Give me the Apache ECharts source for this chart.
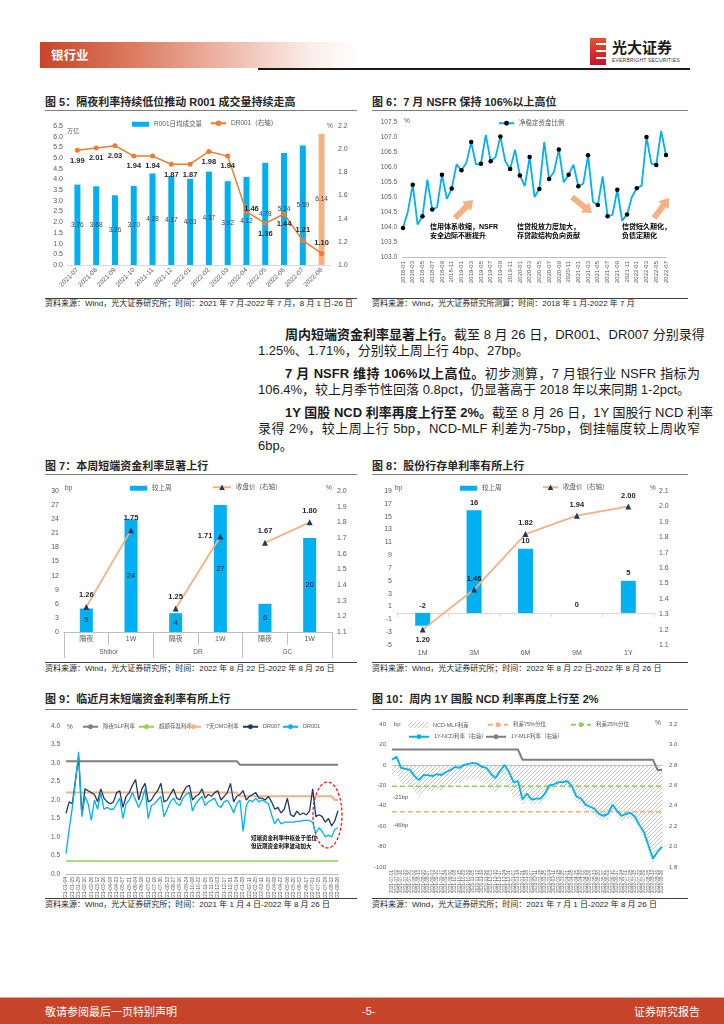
<!DOCTYPE html>
<html><head><meta charset="utf-8">
<script src="https://cdn.jsdelivr.net/npm/echarts/dist/echarts.min.js"></script>
<style>
html,body{margin:0;padding:0;background:#fff}
body{width:724px;height:1024px;position:relative;overflow:hidden;font-family:"Liberation Sans","Noto Sans CJK SC",sans-serif;color:#1a1a1a}
.a{position:absolute;white-space:nowrap}
.ttl{font-size:11px;font-weight:700;line-height:14px;color:#262626;font-family:"Liberation Sans","Noto Sans CJK SC",sans-serif}
.src{font-size:8px;line-height:10px;color:#262626}
.rl{position:absolute;height:1px;background:#7f7f7f}
.rs{position:absolute;height:1px;background:#404040}
.ch{position:absolute}
.ln{position:absolute;left:258px;width:442px;font-size:13px;line-height:17px;white-space:nowrap;text-align:justify;text-align-last:justify;color:#1a1a1a}
.ln.last{text-align-last:left}
.ln b{font-weight:700}
</style>
</head><body>

<!-- header -->
<div class="a" style="left:40px;top:42px;width:320px;height:26px;background:linear-gradient(to right,#c8442a 0%,#dc7d62 30%,#eebcad 60%,#fbeee9 85%,#ffffff 100%)"></div>
<div class="a" style="left:51px;top:47px;font-size:12.5px;font-weight:700;color:#fff;font-family:'Noto Sans CJK SC',sans-serif;line-height:16px">银行业</div>
<div class="a" style="left:258px;top:68px;width:432px;height:1.5px;background:#1a1a1a"></div>
<div class="a" style="left:590px;top:38px;width:16px;height:27px;background:linear-gradient(#e8502e,#c8102e)"></div>
<div class="a" style="left:596px;top:43px;width:10px;height:2px;background:#fff"></div>
<div class="a" style="left:596px;top:50px;width:10px;height:2px;background:#fff"></div>
<div class="a" style="left:596px;top:57px;width:10px;height:2px;background:#fff"></div>
<div class="a" style="left:612px;top:38px;font-size:15px;font-weight:700;color:#1a1a1a;line-height:18px;font-family:'Noto Sans CJK SC',sans-serif">光大证券</div>
<div class="a" style="left:612px;top:57px;font-size:5px;color:#333;line-height:6px;letter-spacing:0.2px">EVERBRIGHT SECURITIES</div>

<!-- figure 5 / 6 -->
<div class="a ttl" style="left:45px;top:95px">图 5：隔夜利率持续低位推动 R001 成交量持续走高</div>
<div class="rl" style="left:45px;top:110px;width:312px"></div>
<div id="c5" class="ch" style="left:45px;top:111px;width:312px;height:186px"></div>
<div class="rs" style="left:45px;top:298px;width:312px"></div>
<div class="a src" style="left:45px;top:299px">资料来源：Wind，光大证券研究所；时间：2021 年 7 月-2022 年 7 月，8 月 1 日-26 日</div>

<div class="a ttl" style="left:372px;top:95px">图 6：7 月 NSFR 保持 106%以上高位</div>
<div class="rl" style="left:372px;top:110px;width:316px"></div>
<div id="c6" class="ch" style="left:372px;top:111px;width:318px;height:186px"></div>
<div class="rs" style="left:372px;top:298px;width:316px"></div>
<div class="a src" style="left:372px;top:299px">资料来源：Wind，光大证券研究所测算；时间：2018 年 1 月-2022 年 7 月</div>

<!-- body text -->
<div class="ln" style="top:325.5px;text-indent:27px"><b>周内短端资金利率显著上行。</b>截至 8 月 26 日，DR001、DR007 分别录得</div>
<div class="ln last" style="top:342px">1.25%、1.71%，分别较上周上行 4bp、27bp。</div>
<div class="ln" style="top:364.5px;text-indent:27px"><b>7 月 NSFR 维持 106%以上高位。</b>初步测算，7 月银行业 NSFR 指标为</div>
<div class="ln last" style="top:381px">106.4%，较上月季节性回落 0.8pct，仍显著高于 2018 年以来同期 1-2pct。</div>
<div class="ln" style="top:403.5px;text-indent:27px"><b>1Y 国股 NCD 利率再度上行至 2%。</b>截至 8 月 26 日，1Y 国股行 NCD 利率</div>
<div class="ln" style="top:420px">录得 2%，较上周上行 5bp，NCD-MLF 利差为-75bp，倒挂幅度较上周收窄</div>
<div class="ln last" style="top:436.5px">6bp。</div>

<!-- figure 7 / 8 -->
<div class="a ttl" style="left:45px;top:459px">图 7：本周短端资金利率显著上行</div>
<div class="rl" style="left:45px;top:474px;width:312px"></div>
<div id="c7" class="ch" style="left:45px;top:475px;width:312px;height:186px"></div>
<div class="rs" style="left:45px;top:662px;width:312px"></div>
<div class="a src" style="left:45px;top:664px">资料来源：Wind，光大证券研究所；时间：2022 年 8 月 22 日-2022 年 8 月 26 日</div>

<div class="a ttl" style="left:372px;top:459px">图 8：股份行存单利率有所上行</div>
<div class="rl" style="left:372px;top:474px;width:316px"></div>
<div id="c8" class="ch" style="left:372px;top:475px;width:318px;height:186px"></div>
<div class="rs" style="left:372px;top:662px;width:316px"></div>
<div class="a src" style="left:372px;top:664px">资料来源：Wind，光大证券研究所；时间：2022 年 8 月 22 日-2022 年 8 月 26 日</div>

<!-- figure 9 / 10 -->
<div class="a ttl" style="left:45px;top:692px">图 9：临近月末短端资金利率有所上行</div>
<div class="rl" style="left:45px;top:709px;width:312px"></div>
<div id="c9" class="ch" style="left:45px;top:710px;width:312px;height:188px"></div>
<div class="rs" style="left:45px;top:898px;width:312px"></div>
<div class="a src" style="left:45px;top:900px">资料来源：Wind，光大证券研究所；时间：2021 年 1 月 4 日-2022 年 8 月 26 日</div>

<div class="a ttl" style="left:372px;top:692px">图 10：周内 1Y 国股 NCD 利率再度上行至 2%</div>
<div class="rl" style="left:372px;top:709px;width:316px"></div>
<div id="c10" class="ch" style="left:372px;top:710px;width:318px;height:188px"></div>
<div class="rs" style="left:372px;top:898px;width:316px"></div>
<div class="a src" style="left:372px;top:900px">资料来源：Wind，光大证券研究所；时间：2021 年 7 月 1 日-2022 年 8 月 26 日</div>

<!-- footer -->
<div class="a" style="left:0;top:997px;width:724px;height:1px;background:#e8a898"></div>
<div class="a" style="left:0;top:998px;width:724px;height:26px;background:#c5442a"></div>
<div class="a" style="left:45px;top:1004px;font-size:11px;color:#fff;line-height:14px;font-family:'Noto Sans CJK SC',sans-serif">敬请参阅最后一页特别声明</div>
<div class="a" style="left:362px;top:1004px;font-size:11px;color:#fff;line-height:14px">-5-</div>
<div class="a" style="right:24px;top:1004px;font-size:11px;color:#fff;line-height:14px;font-family:'Noto Sans CJK SC',sans-serif">证券研究报告</div>

<script>
// ---------------- data ----------------
// Figure 5
const months5 = ['2021-07','2021-08','2021-09','2021-10','2021-11','2021-12','2022-01','2022-02','2022-03','2022-04','2022-05','2022-06','2022-07','2022-08'];
const r001Volume = [3.76,3.68,3.26,3.70,4.28,4.17,4.03,4.37,3.92,4.12,4.78,5.24,5.59,6.14];
const dr001Monthly = [1.99,2.01,2.03,1.94,1.94,1.87,1.87,1.98,1.94,1.46,1.36,1.44,1.21,1.10];

// Figure 6
const months6 = ['2018-01','2018-02','2018-03','2018-04','2018-05','2018-06','2018-07','2018-08','2018-09','2018-10','2018-11','2018-12',
 '2019-01','2019-02','2019-03','2019-04','2019-05','2019-06','2019-07','2019-08','2019-09','2019-10','2019-11','2019-12',
 '2020-01','2020-02','2020-03','2020-04','2020-05','2020-06','2020-07','2020-08','2020-09','2020-10','2020-11','2020-12',
 '2021-01','2021-02','2021-03','2021-04','2021-05','2021-06','2021-07','2021-08','2021-09','2021-10','2021-11','2021-12',
 '2022-01','2022-02','2022-03','2022-04','2022-05','2022-06','2022-07'];
const nsfr = [103.97,104.52,105.41,104.08,104.36,105.58,104.58,104.66,105.74,104.94,105.28,106.09,
 105.89,106.13,106.83,106.08,106.11,107.07,106.19,106.33,107.02,106.19,105.93,106.58,
 105.72,105.36,106.33,105.00,105.27,106.83,105.60,105.84,106.58,105.49,105.74,106.08,
 105.36,105.44,106.39,104.84,104.73,105.69,104.36,104.40,105.24,104.21,104.42,105.00,
 105.29,105.38,107.00,106.11,106.07,107.20,106.40];

// Figure 7
const terms7 = ['隔夜','1W','隔夜','1W','隔夜','1W'];
const groups7 = ['Shibor','DR','GC'];
const weekChg7 = [5,24,4,27,6,20];
const close7 = [1.26,1.75,1.25,1.71,1.67,1.80];

// Figure 8
const tenors8 = ['1M','3M','6M','9M','1Y'];
const weekChg8 = [-2,16,10,0,5];
const close8 = [1.20,1.46,1.82,1.94,2.00];

// Figure 9 (weekly samples)
const dates9 = ['2021-01-04','2021-01-08','2021-01-15','2021-01-22','2021-01-29','2021-02-05','2021-02-10','2021-02-19','2021-02-26','2021-03-05','2021-03-12','2021-03-19','2021-03-26','2021-04-02','2021-04-09','2021-04-16','2021-04-23','2021-04-30','2021-05-07','2021-05-14','2021-05-21','2021-05-28','2021-06-04','2021-06-11','2021-06-18','2021-06-25','2021-07-02','2021-07-09','2021-07-16','2021-07-23','2021-07-30','2021-08-06','2021-08-13','2021-08-20','2021-08-27','2021-09-03','2021-09-10','2021-09-17','2021-09-24','2021-09-30','2021-10-08','2021-10-15','2021-10-22','2021-10-29','2021-11-05','2021-11-12','2021-11-19','2021-11-26','2021-12-03','2021-12-10','2021-12-17','2021-12-24','2021-12-31','2022-01-07','2022-01-14','2022-01-21','2022-01-28','2022-02-07','2022-02-11','2022-02-18','2022-02-25','2022-03-04','2022-03-11','2022-03-18','2022-03-25','2022-04-01','2022-04-08','2022-04-15','2022-04-22','2022-04-29','2022-05-06','2022-05-13','2022-05-20','2022-05-27','2022-06-02','2022-06-10','2022-06-17','2022-06-24','2022-07-01','2022-07-08','2022-07-15','2022-07-22','2022-07-29','2022-08-05','2022-08-12','2022-08-19','2022-08-26'];
const dr001Weekly = [0.55,1.20,1.80,2.50,3.30,1.55,2.10,1.90,1.45,2.00,
 1.75,2.20,1.75,1.80,1.75,1.75,1.90,2.05,1.50,1.90,
 2.00,2.20,2.00,1.80,2.00,2.30,1.50,1.85,1.90,2.00,
 2.10,1.55,1.75,1.95,2.05,1.90,1.85,2.05,2.15,2.20,
 1.70,1.90,2.00,2.10,1.85,1.95,2.00,2.05,1.85,1.80,
 1.95,2.00,1.85,1.65,1.90,2.00,1.15,1.85,2.00,1.95,
 2.05,1.95,2.00,1.95,1.90,1.60,1.35,1.50,1.35,1.40,
 1.40,1.40,1.40,1.42,1.42,1.45,1.45,1.45,1.40,1.10,
 1.25,1.15,1.00,1.05,1.00,1.21,1.25];
const dr007Weekly = [1.64,1.95,1.90,2.55,3.15,1.60,2.30,2.25,2.20,2.15,
 1.95,2.30,2.05,1.95,1.90,1.95,2.20,2.25,1.80,2.10,
 2.20,2.40,2.55,2.00,2.30,2.45,1.95,2.00,2.15,2.25,
 2.45,1.95,2.00,2.15,2.30,2.05,2.00,2.20,2.35,2.40,
 2.00,2.10,2.15,2.30,2.05,2.15,2.10,2.20,2.25,2.00,
 2.10,2.20,2.45,1.95,2.10,2.15,2.25,2.00,2.10,2.15,
 2.20,2.05,2.05,2.00,2.10,1.95,1.75,1.80,1.65,1.75,
 2.05,1.60,1.55,1.70,1.60,1.65,1.60,1.70,2.30,1.55,
 1.60,1.55,1.40,1.50,1.30,1.44,1.71];
const slfON = [['2021-01-04',3.05],['2022-01-14',3.05],['2022-01-21',2.95],['2022-08-26',2.95]];
const excessReserve = [['2021-01-04',0.35],['2022-08-26',0.35]];
const omo7d = [['2021-01-04',2.20],['2022-01-14',2.20],['2022-01-21',2.10],['2022-08-12',2.10],['2022-08-19',2.00],['2022-08-26',2.00]];

// Figure 10 (weekly samples)
const dates10 = ['2021-07-01','2021-07-09','2021-07-16','2021-07-23','2021-07-30','2021-08-06','2021-08-13','2021-08-20','2021-08-27','2021-09-03','2021-09-10','2021-09-17','2021-09-24','2021-09-30','2021-10-08','2021-10-15','2021-10-22','2021-10-29','2021-11-05','2021-11-12','2021-11-19','2021-11-26','2021-12-03','2021-12-10','2021-12-17','2021-12-24','2021-12-31','2022-01-07','2022-01-14','2022-01-21','2022-01-28','2022-02-07','2022-02-11','2022-02-18','2022-02-25','2022-03-04','2022-03-11','2022-03-18','2022-03-25','2022-04-01','2022-04-08','2022-04-15','2022-04-22','2022-04-29','2022-05-06','2022-05-13','2022-05-20','2022-05-27','2022-06-02','2022-06-10','2022-06-17','2022-06-24','2022-07-01','2022-07-08','2022-07-15','2022-07-22','2022-07-29','2022-08-05','2022-08-12','2022-08-19','2022-08-26'];
const ncd1y = [2.85,2.88,2.77,2.76,2.75,2.69,2.65,2.70,2.70,2.69,
 2.71,2.70,2.73,2.75,2.78,2.77,2.80,2.81,2.82,2.81,
 2.78,2.77,2.71,2.67,2.74,2.80,2.73,2.63,2.64,2.46,
 2.52,2.46,2.47,2.47,2.52,2.60,2.61,2.63,2.63,2.64,
 2.59,2.49,2.47,2.41,2.39,2.37,2.32,2.30,2.32,2.41,
 2.35,2.30,2.32,2.33,2.29,2.21,2.14,2.01,1.88,1.95,
 2.00];
const mlf1y = [['2021-07-01',2.95],['2022-01-14',2.95],['2022-01-21',2.85],['2022-08-12',2.85],['2022-08-19',2.75],['2022-08-26',2.75]];
const spreadQ75 = -46, spreadQ25 = -21;

// ---------------- helpers ----------------
const FONT = '"Liberation Sans","Noto Sans CJK SC",sans-serif';
const GRAY = '#595959';
function mk(id){ return echarts.init(document.getElementById(id), null, {renderer:'canvas'}); }
function leg(name, left, top, opt){
  return Object.assign({data:[name], left:left, top:top, padding:0, itemGap:0, itemWidth:17, itemHeight:5,
    selectedMode:false, textStyle:{fontSize:6.5, color:GRAY, fontFamily:FONT}}, opt||{});
}
function txt(t, left, top, size, extra){
  return Object.assign({type:'text', left:left, top:top, silent:true,
    style:Object.assign({text:t, fill:GRAY, fontSize:size||6.5, fontFamily:FONT}, extra||{})});
}
function valAxis(min,max,interval,dec,extra){
  return Object.assign({type:'value', min:min, max:max, interval:interval, splitLine:{show:false},
    axisLine:{show:false}, axisTick:{show:false},
    axisLabel:{fontSize:7, color:GRAY, margin:5, fontFamily:FONT, formatter:v=>Number(v).toFixed(dec)}}, extra||{});
}
function mlfAt(date, steps){ // step value in force on a date
  let v = steps[0][1];
  for (let i=0;i<steps.length;i++){ if (steps[i][0] <= date) v = steps[i][1]; }
  return v;
}
function arrow(x1,y1,x2,y2){
  const dx=x2-x1, dy=y2-y1, L=Math.hypot(dx,dy), ux=dx/L, uy=dy/L, nx=-uy, ny=ux;
  const w=3, hw=6.5, hl=9; const sx=x2-ux*hl, sy=y2-uy*hl;
  return {type:'polygon', silent:true, shape:{points:[
    [x1+nx*w,y1+ny*w],[sx+nx*w,sy+ny*w],[sx+nx*hw,sy+ny*hw],[x2,y2],[sx-nx*hw,sy-ny*hw],[sx-nx*w,sy-ny*w],[x1-nx*w,y1-ny*w]]},
    style:{fill:'#F4B183'}};
}

// ---------------- Figure 5 ----------------
const pos5 = ['bottom','bottom','bottom','bottom','bottom','bottom','bottom','bottom','bottom','inside','bottom','bottom','top','top'];
mk('c5').setOption({
  animation:false, textStyle:{fontFamily:FONT},
  grid:{left:23, right:26, top:15, bottom:32, outerBoundsMode:'none'},
  legend:[leg('R001日均成交量',87,10,{icon:'rect'}), leg('DR001（右轴）',165,9,{itemWidth:15,itemHeight:7})],
  xAxis:{type:'category', data:months5, axisLine:{lineStyle:{color:'#d9d9d9'}}, axisTick:{show:false},
    axisLabel:{rotate:45, interval:0, fontSize:6.5, color:GRAY, margin:4}},
  yAxis:[valAxis(0,6.5,0.5,1), valAxis(1.0,2.2,0.2,1,{axisLabel:{fontSize:7,color:GRAY,margin:7,formatter:v=>Number(v).toFixed(1)}})],
  series:[
    {name:'R001日均成交量', type:'bar', barWidth:6, itemStyle:{color:'#00B0F0'},
     data:r001Volume.map((v,i)=> i===r001Volume.length-1 ? {value:v, itemStyle:{color:'#F4B183'}} : v),
     label:{show:true, position:'inside', fontSize:6.5, color:'#404040', formatter:p=>Number(p.value).toFixed(2)}},
    {name:'DR001（右轴）', type:'line', yAxisIndex:1, symbol:'circle', symbolSize:5,
     itemStyle:{color:'#ED7D31'}, lineStyle:{color:'#ED7D31', width:1.5},
     data:dr001Monthly.map((v,i)=>({value:v, label:{position:pos5[i], offset: pos5[i]==='inside'?[5,-3]:[0,0]}})),
     label:{show:true, fontSize:7.5, fontWeight:'bold', color:'#262626', distance:4, formatter:p=>Number(p.value).toFixed(2)}}
  ],
  graphic:[txt('万亿',22,17,6), txt('%',282,12,6.5)]
});

// ---------------- Figure 6 ----------------
mk('c6').setOption({
  animation:false, textStyle:{fontFamily:FONT},
  grid:{left:31, right:24, top:11, bottom:40, outerBoundsMode:'none'},
  legend:[leg('净稳定资金比例',126,9,{itemWidth:15,itemHeight:6})],
  xAxis:{type:'category', boundaryGap:false, data:months6, axisLine:{lineStyle:{color:'#bfbfbf'}}, axisTick:{show:false},
    axisLabel:{rotate:90, interval:1, fontSize:6, color:GRAY, margin:4}},
  yAxis:valAxis(103,107.5,0.5,1,{axisLabel:{fontSize:6.5,color:GRAY,margin:6,formatter:v=>Number(v).toFixed(1)}}),
  series:[{name:'净稳定资金比例', type:'line', data:nsfr, symbol:'circle', symbolSize:4.5,
    itemStyle:{color:'#000'}, lineStyle:{color:'#00B0F0', width:1.8}}],
  graphic:[
    txt('%',32,7,6.5),
    arrow(83,107,101,89), arrow(200,86,220,102), arrow(282,107,297,87),
    txt('信用体系收缩，NSFR\n安全边际不断提升',58,112,7,{fill:'#000',fontWeight:'bold',lineHeight:9}),
    txt('信贷投放力度加大，\n存贷款结构负向贡献',145,112,7,{fill:'#000',fontWeight:'bold',lineHeight:9}),
    txt('信贷短久期化，\n负债定期化',250,112,7,{fill:'#000',fontWeight:'bold',lineHeight:9})
  ]
});

// ---------------- Figure 7 ----------------
const pos7 = ['top','top','top','left','top','top'];
function groupSeries(g){
  return {name:'收盘价（右轴）', type:'line', yAxisIndex:1, symbol:'triangle', symbolSize:6,
    itemStyle:{color:'#203864'}, lineStyle:{color:'#F4B183', width:1.8},
    data:close7.map((v,i)=> Math.floor(i/2)===g ? {value:v, label:{position:pos7[i]}} : '-'),
    label:{show:true, fontSize:7.5, fontWeight:'bold', color:'#262626', distance:5, formatter:p=>Number(p.value).toFixed(2)}};
}
mk('c7').setOption({
  animation:false, textStyle:{fontFamily:FONT},
  grid:{left:19, right:25, top:16, bottom:29, outerBoundsMode:'none'},
  legend:[leg('较上周',85,10,{icon:'rect'}), leg('收盘价（右轴）',167,9,{itemWidth:18,itemHeight:7})],
  xAxis:[
    {type:'category', data:terms7, axisLine:{lineStyle:{color:'#bfbfbf'}},
     axisTick:{show:true, length:13, lineStyle:{color:'#bfbfbf'}}, axisLabel:{fontSize:7, color:GRAY, margin:4}},
    {type:'category', data:groups7, position:'bottom', offset:13, axisLine:{show:false},
     axisTick:{show:true, length:13, lineStyle:{color:'#bfbfbf'}}, axisLabel:{fontSize:6.5, color:GRAY, margin:4}}
  ],
  yAxis:[valAxis(0,30,3,0), valAxis(1.1,2.0,0.1,1)],
  series:[
    {name:'较上周', type:'bar', barWidth:13, itemStyle:{color:'#00B0F0'}, data:weekChg7,
     label:{show:true, position:'inside', fontSize:7.5, color:'#262626'}},
    groupSeries(0), groupSeries(1), groupSeries(2)
  ],
  graphic:[txt('bp',20,10,6.5), txt('%',281,10,6.5)]
});

// ---------------- Figure 8 ----------------
const pos8 = ['bottom','top','top','top','top'];
mk('c8').setOption({
  animation:false, textStyle:{fontFamily:FONT},
  grid:{left:25, right:36, top:16, bottom:16, outerBoundsMode:'none'},
  legend:[leg('较上周',88,10,{icon:'rect'}), leg('收盘价（右轴）',170,9,{itemWidth:15,itemHeight:7})],
  xAxis:{type:'category', data:tenors8, axisLine:{lineStyle:{color:'#d9d9d9'}},
    axisTick:{show:true, length:4, lineStyle:{color:'#d9d9d9'}}, axisLabel:{fontSize:7, color:GRAY, margin:5}},
  yAxis:[valAxis(-5,19,2,0), valAxis(1.1,2.1,0.1,1)],
  series:[
    {name:'较上周', type:'bar', barWidth:15, itemStyle:{color:'#00B0F0'},
     data:weekChg8.map(v=> v<0 ? {value:v, label:{position:'insideBottom', offset:[0,-12]}} : v),
     label:{show:true, position:'top', fontSize:7.5, fontWeight:'bold', color:'#262626', distance:4}},
    {name:'收盘价（右轴）', type:'line', yAxisIndex:1, symbol:'triangle', symbolSize:6,
     itemStyle:{color:'#203864'}, lineStyle:{color:'#F4B183', width:1.8},
     data:close8.map((v,i)=>({value:v, label:{position:pos8[i]}})),
     label:{show:true, fontSize:7.5, fontWeight:'bold', color:'#262626', distance:4, formatter:p=>Number(p.value).toFixed(2)}}
  ],
  graphic:[txt('bp',23,10,6.5), txt('%',278,10,6.5)]
});

// ---------------- Figure 9 ----------------
const lg9 = {itemWidth:15, itemHeight:6, textStyle:{fontSize:5.5, color:GRAY, fontFamily:FONT}};
mk('c9').setOption({
  animation:false, textStyle:{fontFamily:FONT},
  grid:{left:21, right:19, top:16, bottom:24, outerBoundsMode:'none'},
  legend:[leg('隔夜SLF利率',37,14,lg9), leg('超额存准利率',93,14,lg9), leg('7天OMO利率',140,14,lg9), leg('DR007',197,14,lg9), leg('DR001',237,14,lg9)],
  xAxis:{type:'category', boundaryGap:false, data:dates9, axisLine:{lineStyle:{color:'#bfbfbf'}}, axisTick:{show:false},
    axisLabel:{rotate:90, interval:1, fontSize:5, color:GRAY, margin:3}},
  yAxis:valAxis(0,4,0.5,1,{axisLabel:{fontSize:6.5,color:GRAY,margin:6,formatter:v=>Number(v).toFixed(1)}}),
  series:[
    {name:'隔夜SLF利率', type:'line', data:slfON, symbol:'none', lineStyle:{color:'#7f7f7f', width:2}, itemStyle:{color:'#7f7f7f'}},
    {name:'超额存准利率', type:'line', data:excessReserve, symbol:'none', lineStyle:{color:'#92D050', width:1.5}, itemStyle:{color:'#92D050'}},
    {name:'7天OMO利率', type:'line', data:omo7d, symbol:'none', lineStyle:{color:'#F4B183', width:2}, itemStyle:{color:'#F4B183'}},
    {name:'DR007', type:'line', data:dr007Weekly, symbol:'none', lineStyle:{color:'#203864', width:1.3}, itemStyle:{color:'#203864'}},
    {name:'DR001', type:'line', data:dr001Weekly, symbol:'none', lineStyle:{color:'#00B0F0', width:1.3}, itemStyle:{color:'#00B0F0'}}
  ],
  graphic:[
    txt('%',22,14,6.5),
    {type:'ellipse', silent:true, shape:{cx:282.5, cy:105, rx:14.5, ry:33}, style:{fill:'transparent', stroke:'#FF0000', lineWidth:1.2, lineDash:[3,2]}},
    txt('短端资金利率中枢处于低位\n但近期资金利率波动加大',206,124,5.5,{fill:'#000',fontWeight:'bold',lineHeight:8.5})
  ]
});

// ---------------- Figure 10 ----------------
function hatchCanvas(){
  const c=document.createElement('canvas'); c.width=4; c.height=4; const g=c.getContext('2d');
  g.fillStyle='#c4c4c4'; g.fillRect(0,3,1,1); g.fillRect(1,2,1,1); g.fillRect(2,1,1,1); g.fillRect(3,0,1,1);
  return c;
}
const hatch = {image:hatchCanvas(), repeat:'repeat'};
const spread10 = ncd1y.map((v,i)=> Math.round((v - mlfAt(dates10[i], mlf1y))*100));
const lg10 = {itemWidth:20, itemHeight:6, textStyle:{fontSize:5.5, color:GRAY, fontFamily:FONT}};
const last10 = dates10[dates10.length-1];
mk('c10').setOption({
  animation:false, textStyle:{fontFamily:FONT},
  grid:{left:20, right:28, top:14, bottom:31, outerBoundsMode:'none'},
  legend:[
    leg('NCD-MLF利差',36,12,Object.assign({icon:'rect', itemStyle:{color:hatch}},lg10)),
    leg('利差75%分位',115,12,lg10), leg('利差25%分位',198,12,lg10),
    leg('1Y-NCD利率（右轴）',36,24,lg10), leg('1Y-MLF利率（右轴）',113,24,lg10)
  ],
  xAxis:{type:'category', boundaryGap:false, data:dates10, axisLine:{lineStyle:{color:'#bfbfbf'}}, axisTick:{show:false},
    axisLabel:{rotate:90, interval:0, fontSize:4.5, color:GRAY, margin:3}},
  yAxis:[valAxis(-100,40,20,0,{axisLabel:{fontSize:6,color:GRAY,margin:6}}),
         valAxis(1.8,3.2,0.2,1,{axisLabel:{fontSize:6,color:GRAY,margin:7,formatter:v=>Number(v).toFixed(1)}})],
  series:[
    {name:'NCD-MLF利差', type:'line', data:spread10, symbol:'none', lineStyle:{width:0}, itemStyle:{color:'#b0b0b0'},
     areaStyle:{color:hatch, opacity:1}, z:1},
    {name:'利差75%分位', type:'line', symbol:'none', data:[[dates10[0],spreadQ75],[last10,spreadQ75]],
     lineStyle:{color:'#F4B183', width:1.5, type:[5,3]}, itemStyle:{color:'#F4B183'}},
    {name:'利差25%分位', type:'line', symbol:'none', data:[[dates10[0],spreadQ25],[last10,spreadQ25]],
     lineStyle:{color:'#92D050', width:1.5, type:[5,3]}, itemStyle:{color:'#92D050'}},
    {name:'1Y-NCD利率（右轴）', type:'line', yAxisIndex:1, data:ncd1y, symbol:'none',
     lineStyle:{color:'#00B0F0', width:1.8}, itemStyle:{color:'#00B0F0'}, z:4},
    {name:'1Y-MLF利率（右轴）', type:'line', yAxisIndex:1, data:mlf1y, symbol:'none',
     lineStyle:{color:'#7f7f7f', width:2}, itemStyle:{color:'#7f7f7f'}, z:3}
  ],
  graphic:[txt('bp',22,11,6), txt('%',283,10,6.5),
    txt(spreadQ25+'bp',21,84,6), txt(spreadQ75+'bp',21,112,6)]
});
</script>
</body></html>
